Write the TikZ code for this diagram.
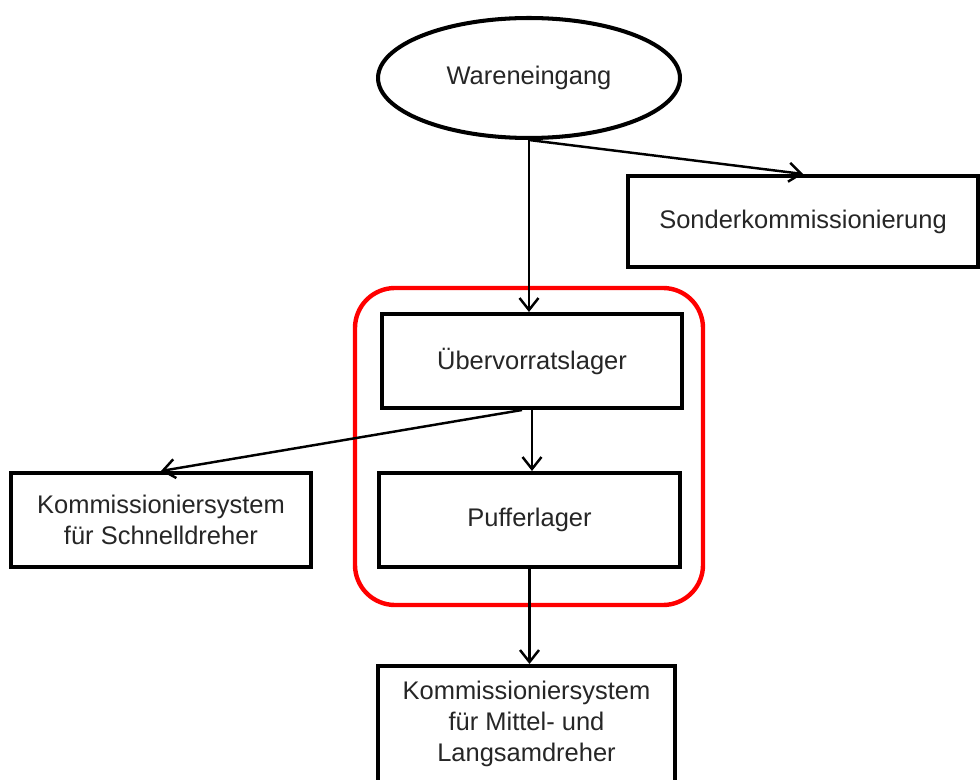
\documentclass[tikz,border=0pt]{standalone}
\usepackage{fontspec}
\setmainfont{Liberation Sans}
\usetikzlibrary{shapes.geometric,arrows.meta}
\begin{document}
\begin{tikzpicture}[x=0.02cm,y=-0.02cm,
  every node/.style={font=\fontsize{14.5}{17.6}\selectfont, align=center, inner sep=0pt, text=black!85},
  boxnode/.style={draw, line width=2.3pt, rectangle},
  conn/.style={line width=1.4pt, -{Straight Barb[length=0.24cm,width=0.38cm,line width=1.4pt]}}]
\useasboundingbox (0,0) rectangle (980,780);
\clip (0,0) rectangle (980,780);
\fill[white] (0,0) rectangle (980,780);
% red group
\draw[red, line width=2.5pt, rounded corners=0.8cm] (355,288) rectangle (703,605);
% nodes
\node[draw, ellipse, line width=2.3pt, minimum width=6.04cm, minimum height=2.4cm] (wa) at (529,78) {Wareneingang};
\node[boxnode, minimum width=7cm, minimum height=1.82cm] (son) at (803,221.5) {Sonderkommissionierung};
\node[boxnode, minimum width=6cm, minimum height=1.88cm] (uber) at (532,361) {Übervorratslager};
\node[boxnode, minimum width=6.02cm, minimum height=1.88cm] (puf) at (529.5,520) {Pufferlager};
\node[boxnode, minimum width=6cm, minimum height=1.88cm] (schnell) at (161,520) {Kommissioniersystem\\für Schnelldreher};
\node[boxnode, minimum width=5.94cm, minimum height=2.32cm] (mittel) at (526.5,724) {Kommissioniersystem\\für Mittel- und\\Langsamdreher};
% connectors
\draw[conn] (wa.south) -- (son.north);
\draw[conn] (wa.south) -- (wa.south |- uber.north);
\draw[conn] ([xshift=-0.2cm]uber.south) -- (schnell.north);
\draw[conn] (uber.south) -- (uber.south |- puf.north);
\draw[conn] (puf.south) -- (puf.south |- mittel.north);
\end{tikzpicture}
\end{document}
